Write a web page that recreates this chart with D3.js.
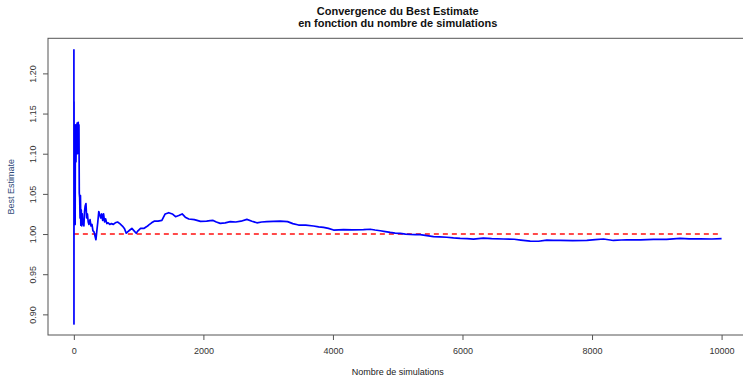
<!DOCTYPE html>
<html>
<head>
<meta charset="utf-8">
<script src="https://cdn.jsdelivr.net/npm/d3@7"></script>
<style>
  body { margin: 0; background: #fff; }
  text { font-family: "Liberation Sans", Arial, sans-serif; }
</style>
</head>
<body>
<div id="chart"></div>
<script>
// nombre de simulations (abscisse) et best estimate cumule
var simN = [1, 2, 3, 4, 6, 8, 11, 14, 17, 20, 24, 28, 33, 38, 44, 50, 56, 62, 68, 74, 79, 84, 90, 96,
    102, 108, 115, 122, 130, 138, 146, 155, 165, 175, 187, 198, 210, 222, 233, 250, 265, 280, 295,
    310, 325, 341, 355, 370, 385, 400, 415, 430, 445, 459, 475, 490, 510, 530, 555, 580, 610, 640,
    675, 710, 750, 780, 809, 835, 865, 896, 930, 963, 990, 1030, 1080, 1120, 1153, 1200, 1240, 1300,
    1359, 1410, 1465, 1520, 1570, 1620, 1672, 1720, 1775, 1860, 1955, 2050, 2105, 2150, 2200, 2260,
    2337, 2414, 2500, 2580, 2671, 2750, 2826, 2900, 2980, 3080, 3186, 3300, 3380, 3469, 3580, 3700,
    3780, 3855, 3930, 4010, 4090, 4164, 4300, 4472, 4575, 4650, 4730, 4810, 4884, 4960, 5038, 5120,
    5193, 5270, 5347, 5450, 5553, 5650, 5758, 5860, 5964, 6070, 6170, 6323, 6450, 6632, 6800, 6900,
    7045, 7174, 7302, 7400, 7508, 7700, 7920, 8050, 8177, 8331, 8450, 8537, 8750, 8948, 9150, 9360,
    9500, 9668, 9850, 10000];
var bestEstimate = [1.230, 0.888, 1.165, 1.060, 1.120, 1.013, 1.110, 1.135, 1.100, 1.012, 1.128, 1.136,
    1.090, 1.131, 1.120, 1.138, 1.100, 1.126, 1.139, 1.110, 1.136, 1.051, 1.045, 1.020,
    1.048, 1.011, 1.030, 1.010, 1.025, 1.012, 1.018, 1.010, 1.028, 1.035, 1.038, 1.020, 1.025, 1.015,
    1.012, 1.018, 1.010, 1.012, 1.004, 1.003, 0.998, 0.993, 1.004, 1.015, 1.028, 1.024, 1.020, 1.025,
    1.017, 1.025, 1.015, 1.019, 1.013, 1.014, 1.012, 1.013, 1.012, 1.014, 1.015, 1.013, 1.010, 1.007,
    1.001, 1.003, 1.005, 1.007, 1.004, 1.001, 1.004, 1.007, 1.007, 1.009, 1.011, 1.014, 1.016, 1.016,
    1.017, 1.025, 1.0266, 1.025, 1.0216, 1.023, 1.025, 1.021, 1.0187, 1.018, 1.0158, 1.016, 1.0166,
    1.017, 1.015, 1.0133, 1.014, 1.0154, 1.015, 1.016, 1.0183, 1.016, 1.014, 1.015, 1.0154, 1.0158,
    1.016, 1.0155, 1.013, 1.0112, 1.011, 1.010, 1.009, 1.0083, 1.007, 1.005, 1.0052, 1.0054, 1.0052,
    1.0054, 1.006, 1.005, 1.0041, 1.003, 1.002, 1.0012, 1.0008, 1.000, 0.9996, 0.9994, 0.9992, 0.998,
    0.9967, 0.9964, 0.9960, 0.9952, 0.9946, 0.9942, 0.9936, 0.9948, 0.9942, 0.9938, 0.9935, 0.9925,
    0.9913, 0.991, 0.9925, 0.9922, 0.992, 0.9918, 0.9921, 0.993, 0.9938, 0.992, 0.9926, 0.9929,
    0.9927, 0.9933, 0.9934, 0.9946, 0.9940, 0.994, 0.9938, 0.9942];
var refValue = [1];
var xTicks = [0, 2000, 4000, 6000, 8000, 10000];
var yTicks = [0.90, 0.95, 1.00, 1.05, 1.10, 1.15, 1.20];
var titleLines = ["Convergence du Best Estimate", "en fonction du nombre de simulations"];
var xLabel = "Nombre de simulations";
var yLabel = "Best Estimate";

var width = 743, height = 376;
var plotLeft = 48, plotRight = 747.5, plotTop = 38.3, plotBottom = 335;

// marge de 4% comme R
var xExt = d3.extent(simN), yExt = d3.extent(bestEstimate);
var xPad = (xExt[1] - xExt[0]) * 0.04, yPad = (yExt[1] - yExt[0]) * 0.04;

var x = d3.scaleLinear()
    .domain([xExt[0] - xPad, xExt[1] + xPad])
    .range([plotLeft, plotRight]);
var y = d3.scaleLinear()
    .domain([yExt[0] - yPad, yExt[1] + yPad])
    .range([plotBottom, plotTop]);

var svg = d3.select("#chart").append("svg")
    .attr("width", width)
    .attr("height", height);

// ligne de reference rouge
svg.append("line")
    .attr("x1", x(0)).attr("x2", x(10000))
    .attr("y1", y(refValue[0])).attr("y2", y(refValue[0]))
    .style("stroke", "#ff4a4a")
    .style("stroke-width", 2)
    .style("stroke-dasharray", "5,4");

var line = d3.line()
    .x(function(d, i){ return x(simN[i]); })
    .y(function(d){ return y(d); });

svg.append("path")
    .datum(bestEstimate)
    .attr("d", line)
    .style("fill", "none")
    .style("stroke", "#0000ff")
    .style("stroke-width", 1.7)
    .style("stroke-linejoin", "round");

// cadre
svg.append("rect")
    .attr("x", plotLeft).attr("y", plotTop)
    .attr("width", plotRight - plotLeft).attr("height", plotBottom - plotTop)
    .style("fill", "none")
    .style("stroke", "#555")
    .style("stroke-width", 1);

var xAxis = svg.append("g")
    .attr("transform", "translate(0," + plotBottom + ")")
    .call(d3.axisBottom(x).tickValues(xTicks).tickSize(5).tickPadding(8).tickFormat(d3.format("d")));
xAxis.select(".domain").remove();

var yAxis = svg.append("g")
    .attr("transform", "translate(" + plotLeft + ",0)")
    .call(d3.axisLeft(y).tickValues(yTicks).tickSize(5).tickFormat(d3.format(".2f")));
yAxis.select(".domain").remove();

xAxis.selectAll("line").style("stroke", "#555");
yAxis.selectAll("line").style("stroke", "#555");
xAxis.selectAll("text").style("font-size", "9px").style("fill", "#333");
// etiquettes y tournees comme dans R
yAxis.selectAll("text")
    .style("font-size", "9px").style("fill", "#333")
    .attr("text-anchor", "middle")
    .attr("x", 0).attr("y", 0).attr("dy", 0)
    .attr("transform", "translate(-12,0) rotate(-90)");

svg.selectAll(".title")
    .data(titleLines)
    .enter().append("text")
    .attr("class", "title")
    .attr("x", (plotLeft + plotRight) / 2)
    .attr("y", function(d, i){ return 15 + i * 12; })
    .attr("text-anchor", "middle")
    .style("font-size", "11px")
    .style("font-weight", "bold")
    .style("fill", "#111")
    .text(function(d){ return d; });

svg.append("text")
    .attr("x", (plotLeft + plotRight) / 2)
    .attr("y", 375)
    .attr("text-anchor", "middle")
    .style("font-size", "9px")
    .style("fill", "#222")
    .text(xLabel);

svg.append("text")
    .attr("transform", "translate(14," + ((plotTop + plotBottom) / 2) + ") rotate(-90)")
    .attr("text-anchor", "middle")
    .style("font-size", "9px")
    .style("fill", "#2e4a78")
    .text(yLabel);
</script>
</body>
</html>
